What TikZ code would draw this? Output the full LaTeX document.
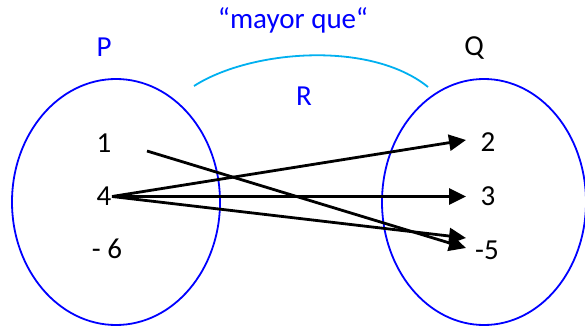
\documentclass[tikz,border=0pt]{standalone}
\usepackage{fontspec}
\setmainfont{Carlito}
\usetikzlibrary{arrows.meta}
\definecolor{arccyan}{RGB}{0,176,240}
\begin{document}
\begin{tikzpicture}[x=1pt,y=-1pt,
  setellipse/.style={draw=blue,line width=1.8pt},
  lbl/.style={font=\fontsize{29}{32}\selectfont,inner sep=0pt,anchor=center},
  maparrow/.style={draw=black,line width=2.8pt,-{Triangle[length=17pt,width=16pt]}}]
\useasboundingbox (0,0) rectangle (585,326);
\fill[white] (0,0) rectangle (585,326);
\draw[setellipse] (116,202) ellipse [x radius=104, y radius=123];
\draw[setellipse] (484,202) ellipse [x radius=102, y radius=123];
\node[lbl,text=blue] (P) at (104,47) {P};
\node[lbl] (Q) at (474,48) {Q};
\node[lbl,text=blue] (mq) at (293,20) {“mayor que“};
\node[lbl,text=blue] (R) at (304,96) {R};
\coordinate (arcL) at (194,86);
\coordinate (arcR) at (428,87);
\draw[draw=arccyan,line width=1.8pt] (arcL) .. controls (250,50) and (370,40) .. (arcR);
\node[lbl] (n1) at (104,143) {1};
\node[lbl] (n4) at (104,196) {4};
\node[lbl] (n6) at (107,249) {- 6};
\node[lbl] (n2) at (488,142) {2};
\node[lbl] (n3) at (488,196) {3};
\node[lbl] (n5) at (487,250) {-5};
\coordinate (s1) at (147,151);
\coordinate (s4) at (112,196.5);
\coordinate (t2) at (466,140);
\coordinate (t3) at (466,196.5);
\coordinate (t5a) at (466,238);
\coordinate (t5b) at (466,248);
\draw[maparrow] (s4) -- (t2);
\draw[maparrow] (s4) -- (t3);
\draw[maparrow] (s4) -- (t5a);
\draw[maparrow] (s1) -- (t5b);
\end{tikzpicture}
\end{document}
